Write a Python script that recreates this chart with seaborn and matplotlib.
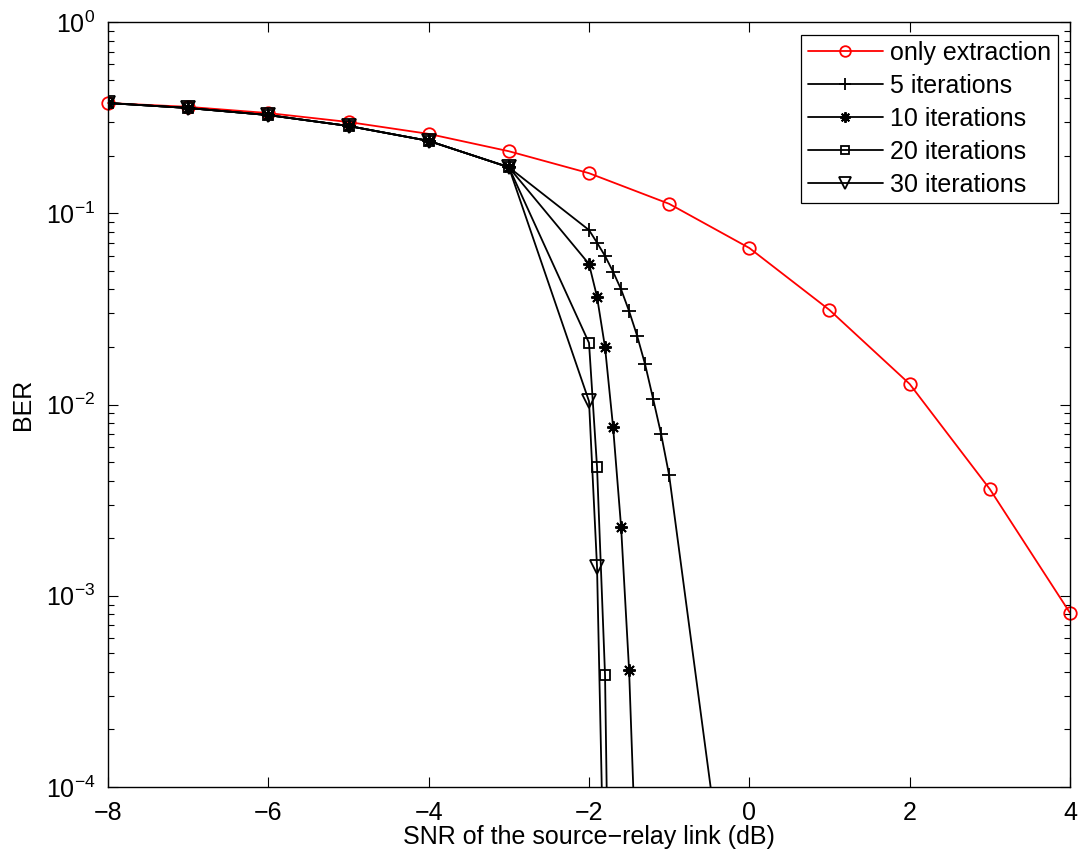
import numpy as np
import pandas as pd
import matplotlib
matplotlib.use("Agg")
import matplotlib.pyplot as plt
import seaborn as sns
from matplotlib.ticker import LogLocator, NullFormatter, MultipleLocator

# ---- data ----
snr_extract = [-8, -7, -6, -5, -4, -3, -2, -1, 0, 1, 2, 3, 4]
ber_extract = [0.377, 0.36, 0.334, 0.30, 0.26, 0.211, 0.162, 0.112, 0.0658,
               0.0312, 0.0128, 0.00361, 0.000813]

snr_common = [-8, -7, -6, -5, -4, -3]
ber_common = [0.377, 0.355, 0.326, 0.286, 0.239, 0.174]

snr_5 = [-2.0, -1.9, -1.8, -1.7, -1.6, -1.5, -1.4, -1.3, -1.2, -1.1, -1.0, 0.0]
ber_5 = [0.0817, 0.0702, 0.0598, 0.0495, 0.040, 0.0308, 0.0229, 0.0162,
         0.0107, 0.00699, 0.00426, 3e-6]

snr_10 = [-2.0, -1.9, -1.8, -1.7, -1.6, -1.5, -1.4]
ber_10 = [0.0543, 0.0366, 0.0199, 0.00766, 0.0023, 0.000409, 2.7e-5]

snr_20 = [-2.0, -1.9, -1.8, -1.7]
ber_20 = [0.021, 0.00473, 0.000385, 5e-7]

snr_30 = [-2.0, -1.9, -1.8]
ber_30 = [0.0104, 0.00142, 1.6e-5]

labels = ["only extraction", "5 iterations", "10 iterations",
          "20 iterations", "30 iterations"]

sns.set_style("ticks")
plt.rcParams['font.family'] = ['Liberation Sans', 'DejaVu Sans']
plt.rcParams['mathtext.fontset'] = 'custom'
plt.rcParams['mathtext.rm'] = 'Liberation Sans'
for k in ['text.color', 'axes.labelcolor', 'xtick.color', 'ytick.color']:
    plt.rcParams[k] = 'black'

FS = 18

fig = plt.figure(figsize=(10.82, 8.6), dpi=100)
ax = fig.add_axes([108/1082, 1-787/860, (1070-108)/1082, (787-22)/860])

lw = 1.3
ms = 8.5

def draw(x, y, marker, color, label, mfc='none', mew=1.3, ms=ms, clip=True):
    sns.lineplot(x=x, y=y, ax=ax, color=color, lw=lw, marker=marker,
                 markersize=ms, markerfacecolor=mfc, markeredgecolor=color,
                 markeredgewidth=mew, label=label, sort=False,
                 estimator=None, clip_on=clip)

draw(snr_extract, ber_extract, 'o', 'red', labels[0], ms=9, clip=False)
draw(snr_common + snr_5, ber_common + ber_5, '+', 'black', labels[1], ms=10.5)
draw(snr_common + snr_10, ber_common + ber_10, (8, 2, 0), 'black', labels[2], ms=9, mew=1.4)
draw(snr_common + snr_20, ber_common + ber_20, 's', 'black', labels[3], ms=7.5)
draw(snr_common + snr_30, ber_common + ber_30, 'v', 'black', labels[4], ms=9.5)

ax.set_yscale('log')
ax.set_xlim(-8, 4)
ax.set_ylim(1e-4, 1)
ax.xaxis.set_major_locator(MultipleLocator(2))
ax.yaxis.set_major_locator(LogLocator(base=10, numticks=10))
ax.yaxis.set_minor_locator(LogLocator(base=10, subs=np.arange(2, 10), numticks=20))
ax.yaxis.set_minor_formatter(NullFormatter())

ax.tick_params(which='both', direction='in', top=True, right=True,
               labelsize=FS, width=0.8, colors='black')
ax.tick_params(which='major', length=7)
ax.tick_params(which='minor', length=4)
ax.tick_params(axis='x', pad=10)
ax.tick_params(axis='y', pad=9)
for s in ax.spines.values():
    s.set_visible(True)
    s.set_linewidth(1.0)
    s.set_color('black')

ax.set_xlabel("SNR of the source\u2212relay link (dB)", fontsize=FS, labelpad=0)
ax.set_ylabel("BER", fontsize=FS, labelpad=8)

leg = ax.legend(loc='upper right', fontsize=FS, frameon=True, fancybox=False,
                edgecolor='black', framealpha=1, handlelength=3.0,
                borderaxespad=0.5, labelspacing=0.36, handletextpad=0.3,
                borderpad=0.25, markerscale=0.85)
leg.get_frame().set_linewidth(0.9)

fig.savefig("out.png", dpi=100)
